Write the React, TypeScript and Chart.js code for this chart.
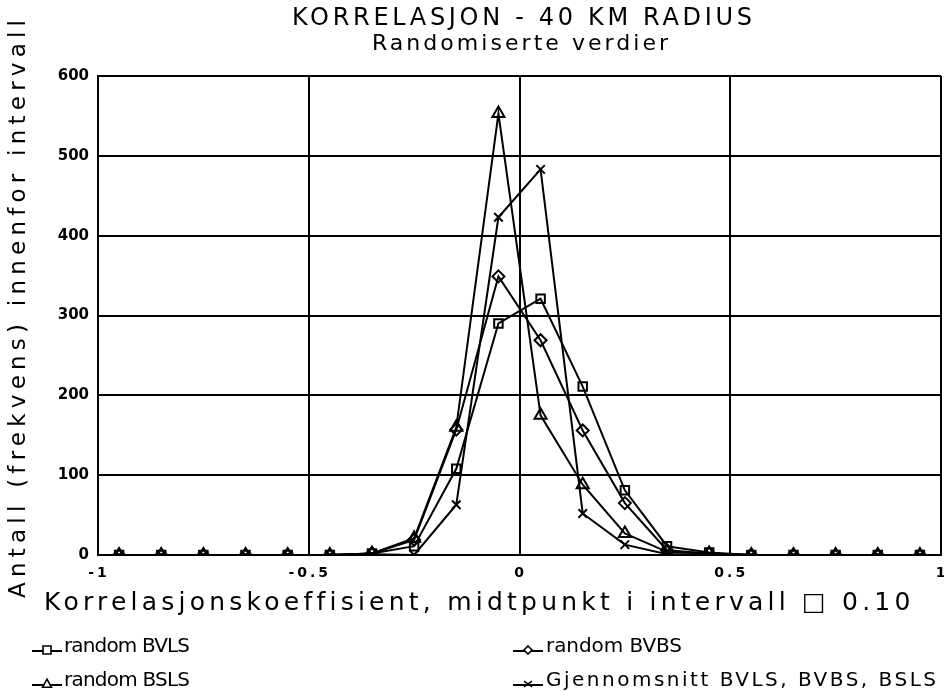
import React, { useEffect, useRef } from "react";
import { Chart, registerables } from "chart.js";

Chart.register(...registerables);

const xMid = [-0.95, -0.85, -0.75, -0.65, -0.55, -0.45, -0.35, -0.25, -0.15, -0.05, 0.05, 0.15, 0.25, 0.35, 0.45, 0.55, 0.65, 0.75, 0.85, 0.95];
const bvls = [0, 0, 0, 0, 0, 0, 2, 11, 108, 290, 321, 211, 81, 11, 3, 0, 0, 0, 0, 0];
const bvbs = [0, 0, 0, 0, 0, 0, 2, 19, 157, 349, 269, 156, 65, 6, 2, 0, 0, 0, 0, 0];
const bsls = [0, 0, 0, 0, 0, 0, 2, 21, 160, 553, 175, 88, 27, 4, 2, 0, 0, 0, 0, 0];
const gjsn = [0, 0, 0, 0, 0, 0, 1, 0, 63, 423, 483, 52, 13, 1, 1, 0, 0, 0, 0, 0];

const seriesNames = ["random BVLS", "random BVBS", "random BSLS", "Gjennomsnitt BVLS, BVBS, BSLS"];
const seriesMarkers = ["rect", "rectRot", "triangle", "crossRot"];
const xTickValues = [-1, -0.5, 0, 0.5, 1];
const xTickLabels = ["-1", "-0.5", "0", "0.5", "1"];

const titleText = "KORRELASJON - 40 KM RADIUS";
const subtitleText = "Randomiserte verdier";
const xTitle = "Korrelasjonskoeffisient, midtpunkt i intervall \u25A1 0.10";
const yTitle = "Antall (frekvens) innenfor intervall";

function fitText(ctx: any, text: string, x0: number, x1: number, y: number, font: string) {
  ctx.font = font;
  ctx.letterSpacing = "0px";
  const w = ctx.measureText(text).width;
  const ls = (x1 - x0 - w) / Math.max(1, text.length - 1);
  ctx.letterSpacing = ls + "px";
  ctx.textAlign = "left";
  ctx.textBaseline = "middle";
  ctx.fillText(text, x0, y);
  ctx.letterSpacing = "0px";
}

function drawMarker(ctx: any, style: string, x: number, y: number, r: number) {
  ctx.beginPath();
  if (style === "rect") {
    ctx.rect(x - r, y - r, 2 * r, 2 * r);
    ctx.fill();
    ctx.stroke();
  } else if (style === "rectRot") {
    ctx.moveTo(x, y - r);
    ctx.lineTo(x + r, y);
    ctx.lineTo(x, y + r);
    ctx.lineTo(x - r, y);
    ctx.closePath();
    ctx.fill();
    ctx.stroke();
  } else if (style === "triangle") {
    ctx.moveTo(x, y - r * 1.2);
    ctx.lineTo(x + r * 1.1, y + r * 0.8);
    ctx.lineTo(x - r * 1.1, y + r * 0.8);
    ctx.closePath();
    ctx.fill();
    ctx.stroke();
  } else {
    ctx.moveTo(x - r, y - r * 0.7);
    ctx.lineTo(x + r, y + r * 0.7);
    ctx.moveTo(x + r, y - r * 0.7);
    ctx.lineTo(x - r, y + r * 0.7);
    ctx.stroke();
  }
}

const decorPlugin = {
  id: "decor",
  afterDraw(chart: any) {
    const ctx = chart.ctx;
    ctx.save();
    ctx.fillStyle = "#000";
    ctx.strokeStyle = "#000";
    const F = "'DejaVu Sans', sans-serif";
    // titles
    fitText(ctx, titleText, 292, 752, 19, `24px ${F}`);
    fitText(ctx, subtitleText, 372, 668, 44, `22px ${F}`);
    // x tick labels
    const xs = chart.scales.x;
    ctx.font = `bold 14px ${F}`;
    ctx.letterSpacing = "3px";
    ctx.textAlign = "center";
    ctx.textBaseline = "middle";
    xTickValues.forEach((v, i) => {
      ctx.fillText(xTickLabels[i], xs.getPixelForValue(v) + 1, 573);
    });
    ctx.letterSpacing = "0px";
    // x title
    fitText(ctx, xTitle, 44, 910, 603, `25px ${F}`);
    // y title
    ctx.save();
    ctx.translate(19, 598);
    ctx.rotate(-Math.PI / 2);
    fitText(ctx, yTitle, 0, 578, 0, `23px ${F}`);
    ctx.restore();
    // legend
    const items = [
      { sx: 32, y: 647, tx0: 64, tx1: 190 },
      { sx: 513, y: 647, tx0: 546, tx1: 682 },
      { sx: 32, y: 681, tx0: 64, tx1: 190 },
      { sx: 513, y: 681, tx0: 546, tx1: 936 },
    ];
    items.forEach((it, di) => {
      ctx.lineWidth = 2;
      ctx.strokeStyle = "#000";
      ctx.beginPath();
      ctx.moveTo(it.sx, it.y + 4);
      ctx.lineTo(it.sx + 30, it.y + 4);
      ctx.stroke();
      ctx.lineWidth = 1.6;
      ctx.fillStyle = "#fff";
      drawMarker(ctx, seriesMarkers[di], it.sx + 15, it.y + 3, 4);
      ctx.fillStyle = "#000";
      fitText(ctx, seriesNames[di], it.tx0, it.tx1, it.y, `20px ${F}`);
    });
    ctx.restore();
  },
};

export default function App() {
  const ref = useRef<HTMLCanvasElement>(null);
  useEffect(() => {
    if (!ref.current) return;
    const seriesData = [bvls, bvbs, bsls, gjsn];
    const chart = new Chart(ref.current, {
      type: "line",
      data: {
        datasets: seriesData.map((arr, i) => ({
          label: seriesNames[i],
          data: xMid.map((x, j) => ({ x, y: arr[j] })),
          borderColor: "#000",
          backgroundColor: "rgba(0,0,0,0)",
          borderWidth: 2,
          pointStyle: seriesMarkers[i] as any,
          pointRadius: i === 2 ? 7 : 6,
          pointBorderWidth: 2,
          pointBorderColor: "#000",
          pointBackgroundColor: "rgba(0,0,0,0)",
          tension: 0,
          fill: false,
        })),
      },
      options: {
        animation: false,
        responsive: false,
        maintainAspectRatio: false,
        layout: { autoPadding: false, padding: { left: 0, top: 76, right: 3, bottom: 0 } } as any,
        plugins: {
          legend: { display: false },
          title: { display: false },
          tooltip: { enabled: false },
        },
        scales: {
          x: {
            type: "linear",
            min: -1,
            max: 1,
            ticks: { display: false, stepSize: 0.5 },
            grid: { color: "#000", lineWidth: 2, drawTicks: false },
            border: { display: true, color: "#000", width: 2 },
            afterFit: (s: any) => {
              s.height = 691 - 555;
            },
          },
          y: {
            min: 0,
            max: 600,
            ticks: {
              stepSize: 100,
              color: "#000",
              padding: 9,
              font: { family: "'DejaVu Sans', sans-serif", size: 15, weight: "bold" },
            },
            grid: { color: "#000", lineWidth: 2, drawTicks: false },
            border: { display: true, color: "#000", width: 2 },
            afterFit: (s: any) => {
              s.width = 98;
            },
          },
        },
      },
      plugins: [decorPlugin],
    });
    return () => chart.destroy();
  }, []);
  return (
    <div style={{ position: "absolute", left: 0, top: 0, width: 944, height: 691, background: "#fff" }}>
      <canvas ref={ref} width={944} height={691} style={{ display: "block" }} />
    </div>
  );
}
